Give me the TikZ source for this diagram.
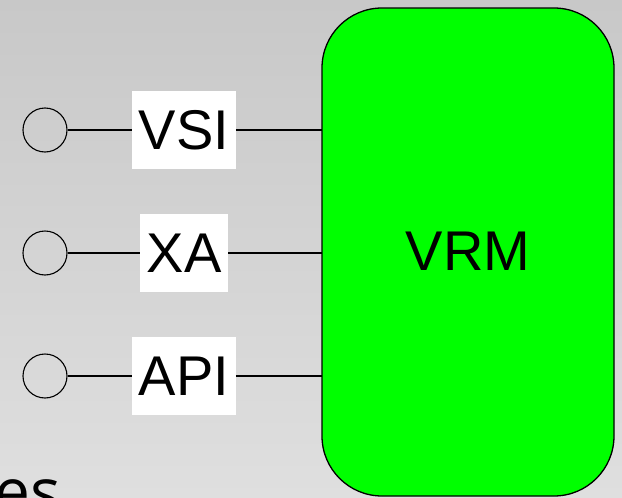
\documentclass[tikz,border=0pt]{standalone}
\usepackage{fontspec}
\setmainfont{Liberation Sans}
\newfontfamily\titlefont{Open Sans}
\begin{document}
\begin{tikzpicture}[x=1pt,y=-1pt,
  port/.style={draw=black, line width=1.1pt, fill=none},
  iface/.style={fill=white, inner xsep=6.5pt, inner ysep=0pt, minimum height=78pt,
    font=\fontsize{56}{60}\selectfont},
  wire/.style={draw=black, line width=1.1pt},
  module/.style={draw=black, line width=1.3pt, fill=green, rounded corners=60pt}]
  % page frame and soft grey backdrop
  \useasboundingbox (0,0) rectangle (622,498);
  \clip (0,0) rectangle (622,498);
  \shade[top color={rgb,255:red,200;green,200;blue,200}, bottom color={rgb,255:red,223;green,223;blue,223}]
    (0,0) rectangle (622,498);
  % partially visible heading text
  \node[anchor=base west, inner sep=0pt, font=\titlefont\fontsize{64}{70}\selectfont] (head) at (-6,514) {es};
  % the module
  \draw[module] (322,8) rectangle (614,496);
  \node[font=\fontsize{56}{60}\selectfont] (vrm) at (468,251) {VRM};
  % interfaces
  \foreach \name/\txt/\y in {vsi/VSI/130, xa/XA/253, api/API/376} {
    \node[circle, port, minimum size=44pt, inner sep=0pt] (c\name) at (45,\y) {};
    \node[iface] (l\name) at (184,\y) {\txt};
    \coordinate (m\name) at (322,\y);
    \draw[wire] (c\name.east) -- (l\name.west);
    \draw[wire] (l\name.east) -- (m\name);
  }
\end{tikzpicture}
\end{document}
